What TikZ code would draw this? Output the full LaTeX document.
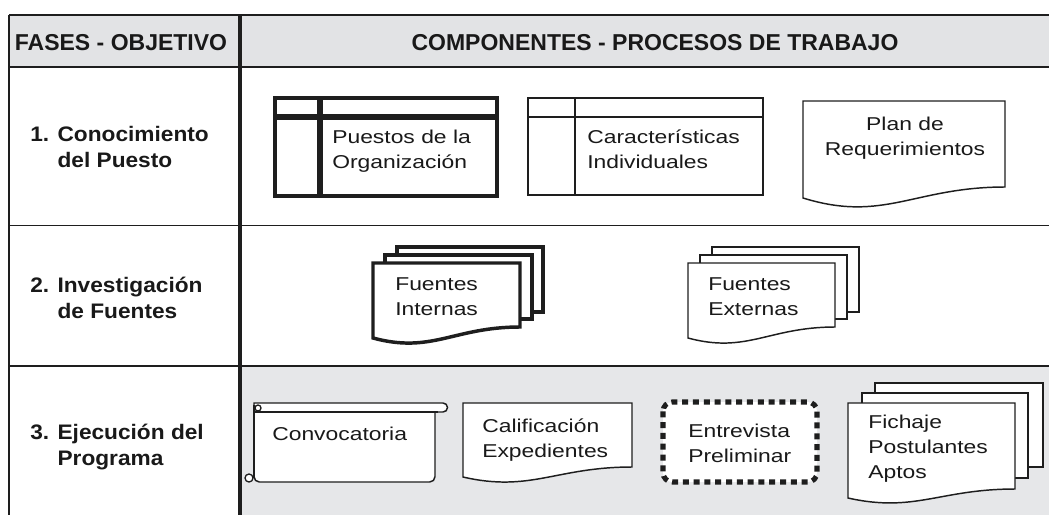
\documentclass[tikz,border=0pt]{standalone}
\usepackage{fontspec}
\setmainfont{Liberation Sans}
\newfontfamily\boxfont[FakeStretch=1.23]{Liberation Sans}
\newfontfamily\leftfont[FakeStretch=1.08]{Liberation Sans}
\definecolor{linec}{RGB}{30,30,30}
\definecolor{txt}{RGB}{25,25,25}
\definecolor{hdr}{RGB}{226,227,229}
\definecolor{rowg}{RGB}{230,231,233}
\newcommand\docshape[7]{% style, x1, top, x2, yL, yR, yc
  \pgfmathsetmacro\dw{#4-#2}
  \draw[#1] (#2,#5) -- (#2,#3) -- (#4,#3) -- (#4,#6) .. controls ({#4-0.45*\dw},#6) and ({#2+0.4*\dw},#7) .. (#2,#5) -- cycle;
}
\begin{document}
\begin{tikzpicture}[x=0.75pt,y=-0.75pt,
  boxtext/.style={inner sep=0pt, anchor=north west, align=left, text=txt,
    font=\boxfont\fontsize{13.95}{18.75}\selectfont},
  boxtextc/.style={boxtext, anchor=north, align=center},
  lefttext/.style={inner sep=0pt, anchor=north west, align=left, text=txt,
    font=\leftfont\bfseries\fontsize{15.75}{19.5}\selectfont},
  hdrtext/.style={inner sep=0pt, anchor=base, text=txt,
    font=\bfseries\fontsize{17.25}{20}\selectfont},
  thindoc/.style={draw=linec, fill=white, line width=1.1pt},
  thickdoc/.style={draw=linec, fill=white, line width=2.6pt, line join=miter},
]
\useasboundingbox (0,0) rectangle (1049,515);
% fills
\fill[hdr] (9,15) rectangle (1049,67);
\fill[rowg] (240,366) rectangle (1049,515);
% table lines
\draw[linec, line width=1.9pt] (9,15) -- (1049,15);
\draw[linec, line width=1.9pt] (9,67) -- (1049,67);
\draw[linec, line width=1.1pt] (9,225.5) -- (1049,225.5);
\draw[linec, line width=2pt] (9,366) -- (1049,366);
\draw[linec, line width=1.1pt] (9,15) -- (9,515);
\draw[linec, line width=2.3pt] (240,15) -- (240,515);
% header
\node[hdrtext] (hfases) at (121,50) {FASES - OBJETIVO};
\node[hdrtext] (hcomp) at (655,50) {COMPONENTES - PROCESOS DE TRABAJO};
% left column
\node[lefttext] (f1) at (30,123.5) {\strut 1. Conocimiento\\\hphantom{1. }del Puesto};
\node[lefttext] (f2) at (30,274) {\strut 2. Investigación\\\hphantom{2. }de Fuentes};
\node[lefttext] (f3) at (30,421) {\strut 3. Ejecución del\\\hphantom{3. }Programa};
% ---- row 1
\draw[linec, fill=white, line width=3pt] (275,98) rectangle (497,196);
\draw[linec, line width=4.5pt] (320,98) -- (320,196);
\draw[linec, line width=4.5pt] (275,116.5) -- (497,116.5);
\node[boxtext] (puestos) at (332,125.5) {\strut Puestos de la\\Organización};
\draw[linec, fill=white, line width=1.1pt] (528,98) rectangle (763,195);
\draw[linec, line width=1.3pt] (575,98) -- (575,195);
\draw[linec, line width=1.3pt] (528,117) -- (763,117);
\node[boxtext] (caract) at (587,125.5) {\strut Características\\Individuales};
\docshape{thindoc}{803}{101}{1005}{198}{187}{223}
\node[boxtextc] (plan) at (905,112.5) {\strut Plan de\\Requerimientos};
% ---- row 2
\draw[thickdoc] (397,247) rectangle (543,312);
\draw[thickdoc] (385,255) rectangle (532,319);
\docshape{thickdoc}{373}{263}{520}{338}{327}{354}
\node[boxtext] (fint) at (395,272.5) {\strut Fuentes\\Internas};
\draw[thindoc] (712,247) rectangle (859,312);
\draw[thindoc] (700,255) rectangle (847,319);
\docshape{thindoc}{688}{263}{835}{338}{327}{354}
\node[boxtext] (fext) at (708,272.5) {\strut Fuentes\\Externas};
% ---- row 3
% scroll
\draw[linec, fill=white, line width=1.1pt, rounded corners=4pt] (254,412) -- (254,482) -- (435,482) -- (435,412);
\draw[linec, fill=white, line width=1.1pt] (254,403) -- (443,403) arc(-90:90:4.5) -- (254,412) -- cycle;
\draw[linec, line width=1.6pt] (254,412) -- (438,412);
\draw[linec, fill=white, line width=1pt] (258,408) circle[radius=3];
\draw[linec, fill=white, line width=1pt] (249,478) circle[radius=4];
\draw[linec, line width=1.1pt] (254,405) -- (254,478);
\node[boxtext] (convo) at (272,422.5) {\strut Convocatoria};
\docshape{thindoc}{463}{403}{632}{477}{467}{492.6}
\node[boxtext] (calif) at (482,414.5) {\strut Calificación\\Expedientes};
\draw[linec, fill=white, line width=3.8pt, rounded corners=7pt, dash pattern=on 4.5pt off 3.6pt] (663,402) rectangle (817,482);
\node[boxtext] (entrev) at (688,419.5) {\strut Entrevista\\Preliminar};
\draw[thindoc] (875,383) rectangle (1043,467);
\draw[thindoc] (862,393) rectangle (1028,478);
\docshape{thindoc}{848}{403}{1015}{498}{489}{513}
\node[boxtext] (ficha) at (868,410.5) {\strut Fichaje\\Postulantes\\Aptos};
\end{tikzpicture}
\end{document}
